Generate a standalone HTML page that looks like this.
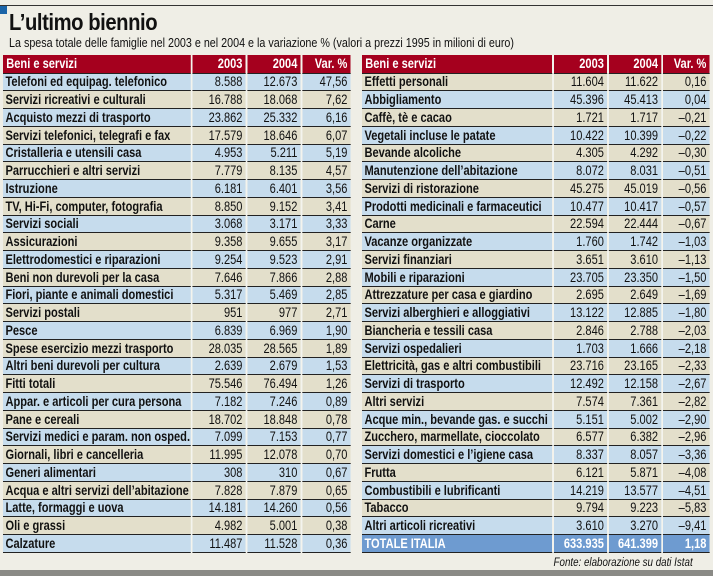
<!DOCTYPE html>
<html><head><meta charset="utf-8"><style>
*{margin:0;padding:0;box-sizing:border-box}
body{width:713px;height:576px;background:#efeee6;position:relative;overflow:hidden;font-family:"Liberation Sans",sans-serif;color:#111}
.top{position:absolute;left:0;top:5px;width:713px;height:1px;background:#333}
.sq{position:absolute;left:0;top:6px;width:7px;height:8px;background:#1a64a8}
h1{position:absolute;left:9px;top:9px;font-size:23px;font-weight:bold;letter-spacing:-0.5px;transform:scaleX(.88);transform-origin:left top;white-space:nowrap}
.sub{position:absolute;left:9px;top:36px;font-size:12.5px;transform:scaleX(.86);transform-origin:left top;white-space:nowrap}
.t{position:absolute;top:55px;border-collapse:collapse;font-size:13.5px;table-layout:fixed;width:424px;transform:scaleX(.82);transform-origin:left top}
.t td,.t th{height:17.75px;padding:0 4px;white-space:nowrap;overflow:hidden;border-bottom:1px solid #222;border-right:2px solid #f4f4ee;line-height:15px}
.t th{background:#a5001e;color:#fff;height:18px;font-weight:bold;text-align:right}
.t th:first-child{text-align:left}
.t td:first-child{font-weight:bold;text-align:left;padding-left:3px;padding-right:0}
.t td{text-align:right}
.t td:last-child,.t th:last-child{border-right:none}
.b td{background:#c6dced}
.e td{background:#e3dfcb}
.tot td{background:#6e9bd0;color:#fff;font-weight:bold}
.src{position:absolute;right:20px;top:557px;font-size:11.5px;font-style:italic;transform:scaleX(.85);transform-origin:right top;white-space:nowrap}
.bot{position:absolute;left:0;top:570px;width:713px;height:6px;background:#8a8a86}
</style></head><body>
<div class="top"></div><div class="sq"></div>
<h1>L’ultimo biennio</h1>
<div class="sub">La spesa totale delle famiglie nel 2003 e nel 2004 e la variazione % (valori a prezzi 1995 in milioni di euro)</div>
<table class="t" style="left:3px">
<colgroup><col style="width:230px"><col style="width:67px"><col style="width:67px"><col style="width:60px"></colgroup>
<tr><th>Beni e servizi</th><th>2003</th><th>2004</th><th>Var. %</th></tr>
<tr class="b"><td>Telefoni ed equipag. telefonico</td><td>8.588</td><td>12.673</td><td>47,56</td></tr>
<tr class="e"><td>Servizi ricreativi e culturali</td><td>16.788</td><td>18.068</td><td>7,62</td></tr>
<tr class="b"><td>Acquisto mezzi di trasporto</td><td>23.862</td><td>25.332</td><td>6,16</td></tr>
<tr class="e"><td>Servizi telefonici, telegrafi e fax</td><td>17.579</td><td>18.646</td><td>6,07</td></tr>
<tr class="b"><td>Cristalleria e utensili casa</td><td>4.953</td><td>5.211</td><td>5,19</td></tr>
<tr class="e"><td>Parrucchieri e altri servizi</td><td>7.779</td><td>8.135</td><td>4,57</td></tr>
<tr class="b"><td>Istruzione</td><td>6.181</td><td>6.401</td><td>3,56</td></tr>
<tr class="e"><td>TV, Hi-Fi, computer, fotografia</td><td>8.850</td><td>9.152</td><td>3,41</td></tr>
<tr class="b"><td>Servizi sociali</td><td>3.068</td><td>3.171</td><td>3,33</td></tr>
<tr class="e"><td>Assicurazioni</td><td>9.358</td><td>9.655</td><td>3,17</td></tr>
<tr class="b"><td>Elettrodomestici e riparazioni</td><td>9.254</td><td>9.523</td><td>2,91</td></tr>
<tr class="e"><td>Beni non durevoli per la casa</td><td>7.646</td><td>7.866</td><td>2,88</td></tr>
<tr class="b"><td>Fiori, piante e animali domestici</td><td>5.317</td><td>5.469</td><td>2,85</td></tr>
<tr class="e"><td>Servizi postali</td><td>951</td><td>977</td><td>2,71</td></tr>
<tr class="b"><td>Pesce</td><td>6.839</td><td>6.969</td><td>1,90</td></tr>
<tr class="e"><td>Spese esercizio mezzi trasporto</td><td>28.035</td><td>28.565</td><td>1,89</td></tr>
<tr class="b"><td>Altri beni durevoli per cultura</td><td>2.639</td><td>2.679</td><td>1,53</td></tr>
<tr class="e"><td>Fitti totali</td><td>75.546</td><td>76.494</td><td>1,26</td></tr>
<tr class="b"><td>Appar. e articoli per cura persona</td><td>7.182</td><td>7.246</td><td>0,89</td></tr>
<tr class="e"><td>Pane e cereali</td><td>18.702</td><td>18.848</td><td>0,78</td></tr>
<tr class="b"><td>Servizi medici e param. non osped.</td><td>7.099</td><td>7.153</td><td>0,77</td></tr>
<tr class="e"><td>Giornali, libri e cancelleria</td><td>11.995</td><td>12.078</td><td>0,70</td></tr>
<tr class="b"><td>Generi alimentari</td><td>308</td><td>310</td><td>0,67</td></tr>
<tr class="e"><td>Acqua e altri servizi dell’abitazione</td><td>7.828</td><td>7.879</td><td>0,65</td></tr>
<tr class="b"><td>Latte, formaggi e uova</td><td>14.181</td><td>14.260</td><td>0,56</td></tr>
<tr class="e"><td>Oli e grassi</td><td>4.982</td><td>5.001</td><td>0,38</td></tr>
<tr class="b"><td>Calzature</td><td>11.487</td><td>11.528</td><td>0,36</td></tr>
</table>
<table class="t" style="left:362px">
<colgroup><col style="width:233px"><col style="width:67px"><col style="width:66px"><col style="width:58px"></colgroup>
<tr><th>Beni e servizi</th><th>2003</th><th>2004</th><th>Var. %</th></tr>
<tr class="e"><td>Effetti personali</td><td>11.604</td><td>11.622</td><td>0,16</td></tr>
<tr class="b"><td>Abbigliamento</td><td>45.396</td><td>45.413</td><td>0,04</td></tr>
<tr class="e"><td>Caffè, tè e cacao</td><td>1.721</td><td>1.717</td><td>–0,21</td></tr>
<tr class="b"><td>Vegetali incluse le patate</td><td>10.422</td><td>10.399</td><td>–0,22</td></tr>
<tr class="e"><td>Bevande alcoliche</td><td>4.305</td><td>4.292</td><td>–0,30</td></tr>
<tr class="b"><td>Manutenzione dell’abitazione</td><td>8.072</td><td>8.031</td><td>–0,51</td></tr>
<tr class="e"><td>Servizi di ristorazione</td><td>45.275</td><td>45.019</td><td>–0,56</td></tr>
<tr class="b"><td>Prodotti medicinali e farmaceutici</td><td>10.477</td><td>10.417</td><td>–0,57</td></tr>
<tr class="e"><td>Carne</td><td>22.594</td><td>22.444</td><td>–0,67</td></tr>
<tr class="b"><td>Vacanze organizzate</td><td>1.760</td><td>1.742</td><td>–1,03</td></tr>
<tr class="e"><td>Servizi finanziari</td><td>3.651</td><td>3.610</td><td>–1,13</td></tr>
<tr class="b"><td>Mobili e riparazioni</td><td>23.705</td><td>23.350</td><td>–1,50</td></tr>
<tr class="e"><td>Attrezzature per casa e giardino</td><td>2.695</td><td>2.649</td><td>–1,69</td></tr>
<tr class="b"><td>Servizi alberghieri e alloggiativi</td><td>13.122</td><td>12.885</td><td>–1,80</td></tr>
<tr class="e"><td>Biancheria e tessili casa</td><td>2.846</td><td>2.788</td><td>–2,03</td></tr>
<tr class="b"><td>Servizi ospedalieri</td><td>1.703</td><td>1.666</td><td>–2,18</td></tr>
<tr class="e"><td>Elettricità, gas e altri combustibili</td><td>23.716</td><td>23.165</td><td>–2,33</td></tr>
<tr class="b"><td>Servizi di trasporto</td><td>12.492</td><td>12.158</td><td>–2,67</td></tr>
<tr class="e"><td>Altri servizi</td><td>7.574</td><td>7.361</td><td>–2,82</td></tr>
<tr class="b"><td>Acque min., bevande gas. e succhi</td><td>5.151</td><td>5.002</td><td>–2,90</td></tr>
<tr class="e"><td>Zucchero, marmellate, cioccolato</td><td>6.577</td><td>6.382</td><td>–2,96</td></tr>
<tr class="b"><td>Servizi domestici e l’igiene casa</td><td>8.337</td><td>8.057</td><td>–3,36</td></tr>
<tr class="e"><td>Frutta</td><td>6.121</td><td>5.871</td><td>–4,08</td></tr>
<tr class="b"><td>Combustibili e lubrificanti</td><td>14.219</td><td>13.577</td><td>–4,51</td></tr>
<tr class="e"><td>Tabacco</td><td>9.794</td><td>9.223</td><td>–5,83</td></tr>
<tr class="b"><td>Altri articoli ricreativi</td><td>3.610</td><td>3.270</td><td>–9,41</td></tr>
<tr class="tot"><td>TOTALE ITALIA</td><td>633.935</td><td>641.399</td><td>1,18</td></tr>
</table>
<div class="src">Fonte: elaborazione su dati Istat</div>
<div class="bot"></div>
</body></html>
